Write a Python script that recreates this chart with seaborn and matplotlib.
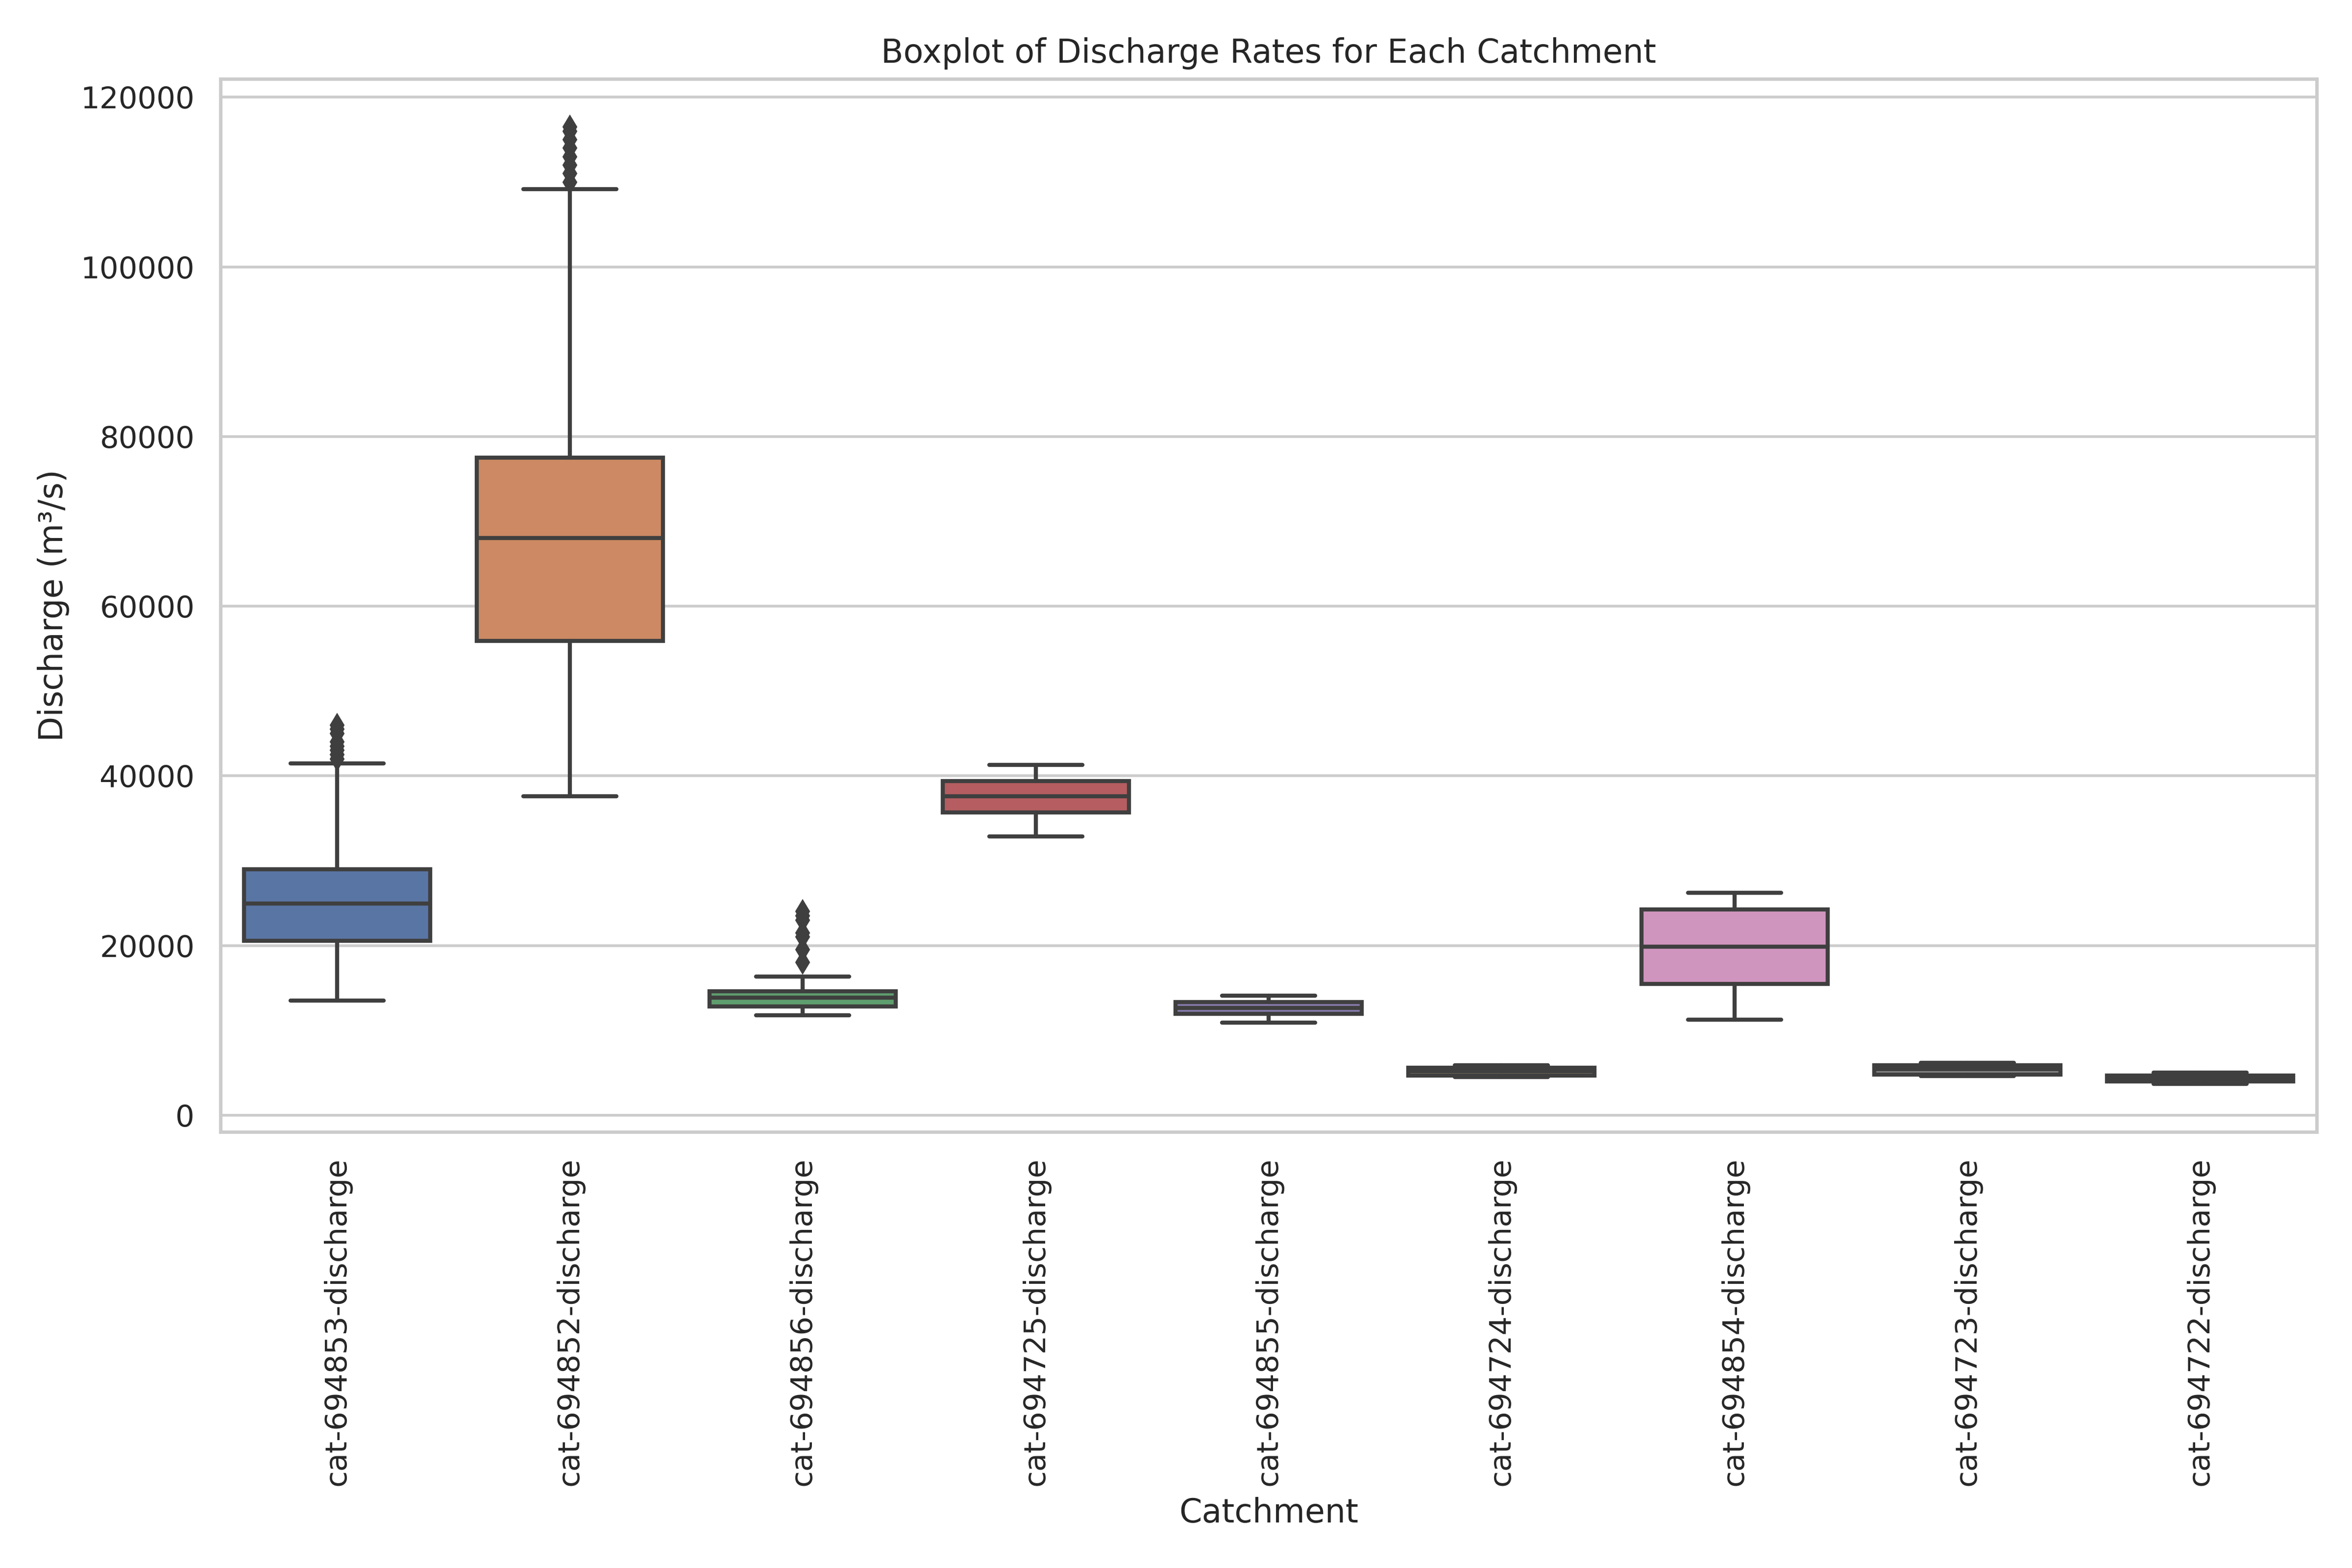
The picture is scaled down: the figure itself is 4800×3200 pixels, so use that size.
import matplotlib
matplotlib.use("Agg")
import matplotlib.pyplot as plt
import seaborn as sns

catchments = ["cat-694853-discharge", "cat-694852-discharge", "cat-694856-discharge",
              "cat-694725-discharge", "cat-694855-discharge", "cat-694724-discharge",
              "cat-694854-discharge", "cat-694723-discharge", "cat-694722-discharge"]
whis_low = [13530, 37600, 11770, 32860, 10900, 4500, 11250, 4600, 3700]
q1 = [20560, 55890, 12830, 35680, 11950, 4700, 15470, 4800, 4000]
median = [24960, 68010, 13880, 37610, 12650, 5200, 19860, 5400, 4400]
q3 = [29000, 77500, 14590, 39370, 13360, 5600, 24250, 5900, 4700]
whis_high = [41480, 109140, 16340, 41300, 14060, 5900, 26190, 6200, 5000]
fliers = [
    [42000, 42500, 43000, 43500, 44000, 45000, 45500, 46000],
    [110000, 111000, 112000, 113000, 114000, 115000, 116000, 116500],
    [18000, 19500, 21000, 21500, 23000, 23500, 24000],
    [], [], [], [], [], [],
]

sns.set_theme(style="whitegrid")
palette = [sns.desaturate(c, 0.75) for c in sns.color_palette("deep", len(catchments))]
line_col = "#3f3f3f"

stats = [dict(whislo=a, q1=b, med=c, q3=d, whishi=e, fliers=f)
         for a, b, c, d, e, f in zip(whis_low, q1, median, q3, whis_high, fliers)]

fig, ax = plt.subplots(figsize=(12, 8))
bp = ax.bxp(stats, positions=range(len(catchments)), widths=0.8, patch_artist=True,
            boxprops=dict(edgecolor=line_col, linewidth=1.5),
            medianprops=dict(color=line_col, linewidth=1.5),
            whiskerprops=dict(color=line_col, linewidth=1.5),
            capprops=dict(color=line_col, linewidth=1.5),
            flierprops=dict(marker="d", markerfacecolor=line_col, markeredgecolor=line_col,
                            markersize=5))
for patch, col in zip(bp["boxes"], palette):
    patch.set_facecolor(col)

ax.set_xticks(range(len(catchments)))
ax.set_xticklabels(catchments, rotation=90)
ax.set_xlim(-0.5, len(catchments) - 0.5)
ax.xaxis.grid(False)
ax.set_xlabel("Catchment")
ax.set_ylabel("Discharge (m³/s)")
ax.set_title("Boxplot of Discharge Rates for Each Catchment")
fig.tight_layout()
fig.savefig("out.png", dpi=400)
